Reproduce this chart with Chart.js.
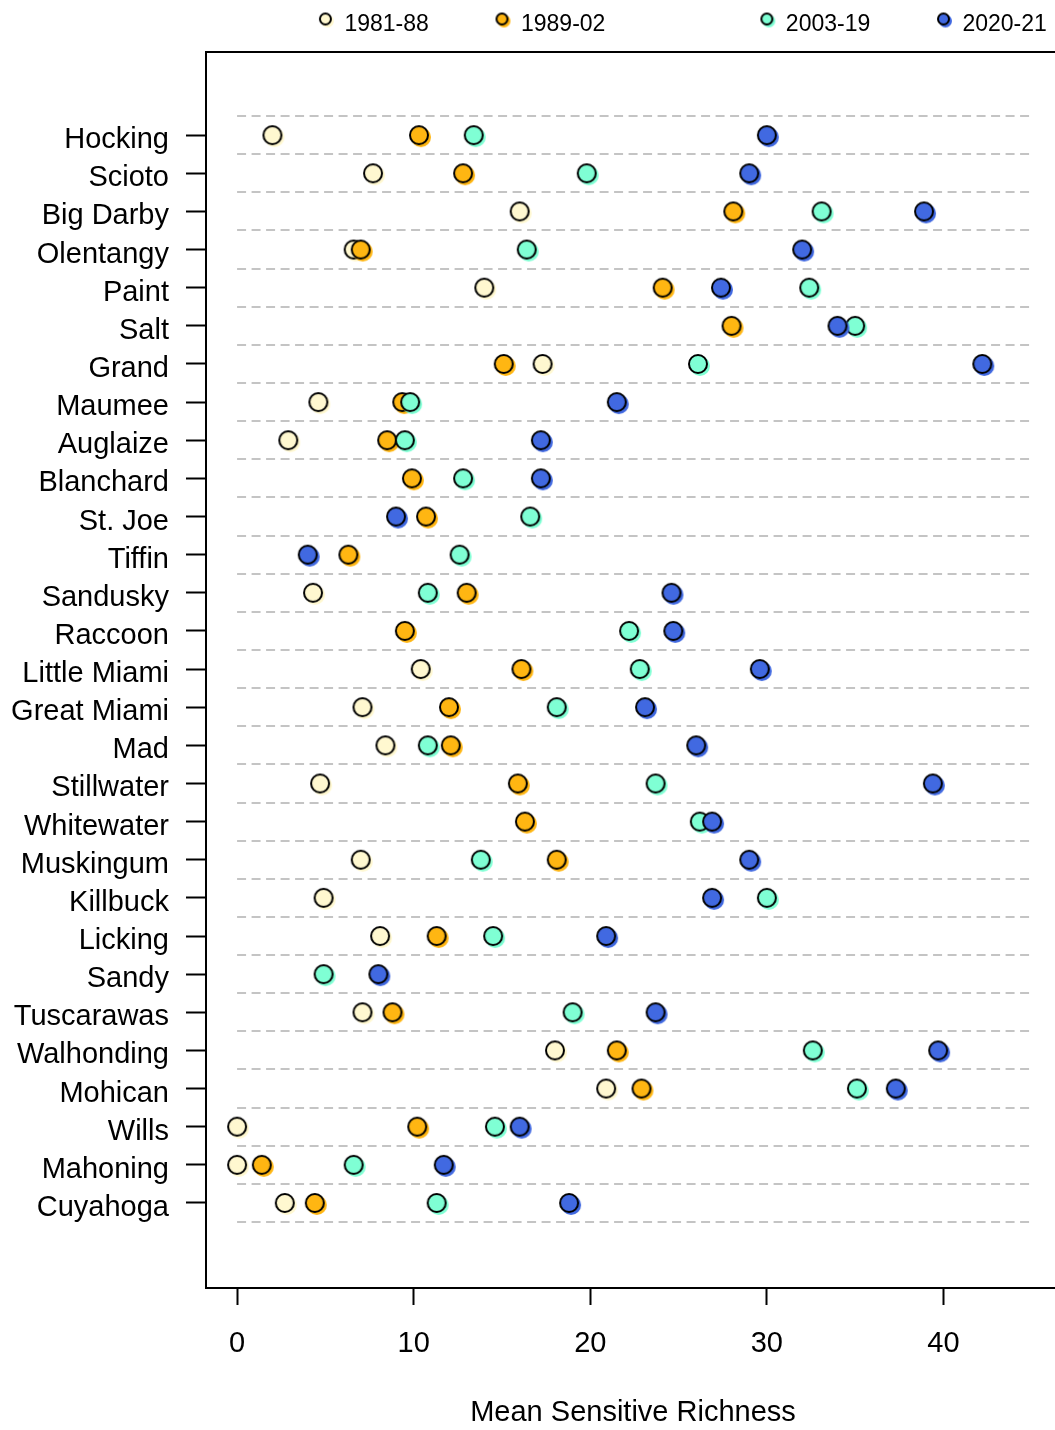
<!DOCTYPE html>
<html>
<head>
<meta charset="utf-8">
<script src="https://cdn.jsdelivr.net/npm/chart.js@4"></script>
<style>
  html, body { margin: 0; padding: 0; background: #fff; overflow: hidden; }
  #wrap { width: 1075px; height: 1430px; }
</style>
</head>
<body>
<div id="wrap"><canvas id="myChart" width="1075" height="1430"></canvas></div>
<script>
// rivers, top to bottom
var rivers = ["Hocking", "Scioto", "Big Darby", "Olentangy", "Paint", "Salt", "Grand", "Maumee",
  "Auglaize", "Blanchard", "St. Joe", "Tiffin", "Sandusky", "Raccoon", "Little Miami", "Great Miami",
  "Mad", "Stillwater", "Whitewater", "Muskingum", "Killbuck", "Licking", "Sandy", "Tuscarawas",
  "Walhonding", "Mohican", "Wills", "Mahoning", "Cuyahoga"];

var periods = ["1981-88", "1989-02", "2003-19", "2020-21"];

var v1981 = [2.0, 7.7, 16.0, 6.6, 14.0, null, 17.3, 4.6, 2.9, null, null, null, 4.3, null, 10.4, 7.1,
  8.4, 4.7, null, 7.0, 4.9, 8.1, null, 7.1, 18.0, 20.9, 0.0, 0.0, 2.7];
var v1989 = [10.3, 12.8, 28.1, 7.0, 24.1, 28.0, 15.1, 9.35, 8.5, 9.9, 10.7, 6.3, 13.0, 9.5, 16.1, 12.0,
  12.1, 15.9, 16.3, 18.1, null, 11.3, null, 8.8, 21.5, 22.9, 10.2, 1.4, 4.4];
var v2003 = [13.4, 19.8, 33.1, 16.4, 32.4, 35.0, 26.1, 9.8, 9.5, 12.8, 16.6, 12.6, 10.8, 22.2, 22.8, 18.1,
  10.8, 23.7, 26.2, 13.8, 30.0, 14.5, 4.9, 19.0, 32.6, 35.1, 14.6, 6.6, 11.3];
var v2020 = [30.0, 29.0, 38.9, 32.0, 27.4, 34.0, 42.2, 21.5, 17.2, 17.2, 9.0, 4.0, 24.6, 24.7, 29.6, 23.1,
  26.0, 39.4, 26.9, 29.0, 26.9, 20.9, 8.0, 23.7, 39.7, 37.3, 16.0, 11.7, 18.8];

var xTicks = [0, 10, 20, 30, 40];

var colors = ["#fff8d0", "#ffb612", "#7fffd4", "#4169e1"];
var fontFam = "'Liberation Sans', Arial, sans-serif";

// dot with a small offset shadow, like the original
function makeDot(fill, r) {
  var c = document.createElement("canvas");
  var m = 4;
  var s = 2 * (r + m);
  c.width = s; c.height = s;
  var g = c.getContext("2d");
  var mid = s / 2;
  g.fillStyle = fill;
  g.beginPath(); g.arc(mid + 2, mid + 2, r, 0, Math.PI * 2); g.fill();
  g.beginPath(); g.arc(mid, mid, r - 1, 0, Math.PI * 2); g.fill();
  g.lineWidth = 2; g.strokeStyle = "#000"; g.stroke();
  return c;
}

function toPoints(vals) {
  var out = [];
  vals.forEach(function (v, i) {
    if (v !== null) out.push({ x: v, y: i + 1 });
  });
  return out;
}

var allVals = [v1981, v1989, v2003, v2020];
var datasets = allVals.map(function (vals, i) {
  return {
    label: periods[i],
    data: toPoints(vals),
    pointStyle: makeDot(colors[i], 10),
    pointRadius: 10,
    pointHoverRadius: 10,
    showLine: false,
    order: 3 - i
  };
});

var boxAndLines = {
  id: "boxAndLines",
  beforeDatasetsDraw: function (chart) {
    var ctx = chart.ctx, xs = chart.scales.x, ys = chart.scales.y;
    ctx.save();
    ctx.strokeStyle = "#c4c4c4";
    ctx.lineWidth = 2.2;
    ctx.setLineDash([9, 5.5]);
    for (var k = 0; k <= rivers.length; k++) {
      var y = Math.round(ys.getPixelForValue(k + 0.5));
      ctx.beginPath();
      ctx.moveTo(xs.getPixelForValue(0), y);
      ctx.lineTo(xs.getPixelForValue(45), y);
      ctx.stroke();
    }
    ctx.restore();
  },
  afterDraw: function (chart) {
    var ctx = chart.ctx, a = chart.chartArea, xs = chart.scales.x;
    ctx.save();
    ctx.strokeStyle = "#000";
    ctx.lineWidth = 2;
    ctx.strokeRect(a.left, a.top, a.right - a.left, a.bottom - a.top);
    // legend along the top
    var lx = [5, 15, 30, 40];
    ctx.font = "23px " + fontFam;
    ctx.textBaseline = "alphabetic";
    periods.forEach(function (p, i) {
      var px = xs.getPixelForValue(lx[i]);
      var dot = makeDot(colors[i], 6.5);
      ctx.drawImage(dot, px - dot.width / 2, 19 - dot.height / 2);
      ctx.fillStyle = "#000";
      ctx.fillText(p, px + 19, 31);
    });
    ctx.restore();
  }
};

var ctx = document.getElementById("myChart").getContext("2d");
var myChart = new Chart(ctx, {
  type: "scatter",
  data: { datasets: datasets },
  plugins: [boxAndLines],
  options: {
    responsive: false,
    animation: false,
    layout: { padding: { top: 52, right: 15, left: 0, bottom: 0 } },
    plugins: {
      legend: { display: false },
      tooltip: { enabled: false }
    },
    scales: {
      x: {
        type: "linear",
        min: -1.76,
        max: 46.6,
        afterBuildTicks: function (scale) {
          scale.ticks = xTicks.map(function (v) { return { value: v }; });
        },
        afterFit: function (scale) { scale.height = 142; },
        border: { display: false },
        grid: { drawOnChartArea: false, tickLength: 17, tickWidth: 2, tickColor: "#000" },
        ticks: { color: "#000", padding: 22, font: { size: 29, family: fontFam } },
        title: {
          display: true,
          text: "Mean Sensitive Richness",
          color: "#000",
          padding: { top: 0, bottom: 0 },
          font: { size: 29, family: fontFam }
        }
      },
      y: {
        type: "linear",
        reverse: true,
        min: -1.18,
        max: 31.23,
        afterBuildTicks: function (scale) {
          scale.ticks = rivers.map(function (r, i) { return { value: i + 1 }; });
        },
        afterFit: function (scale) { scale.width = 206; },
        border: { display: false },
        grid: { drawOnChartArea: false, tickLength: 20, tickWidth: 2, tickColor: "#000" },
        ticks: {
          color: "#000",
          padding: 17,
          labelOffset: 5,
          autoSkip: false,
          font: { size: 29, family: fontFam },
          callback: function (v) { return rivers[v - 1]; }
        }
      }
    }
  }
});
</script>
</body>
</html>
